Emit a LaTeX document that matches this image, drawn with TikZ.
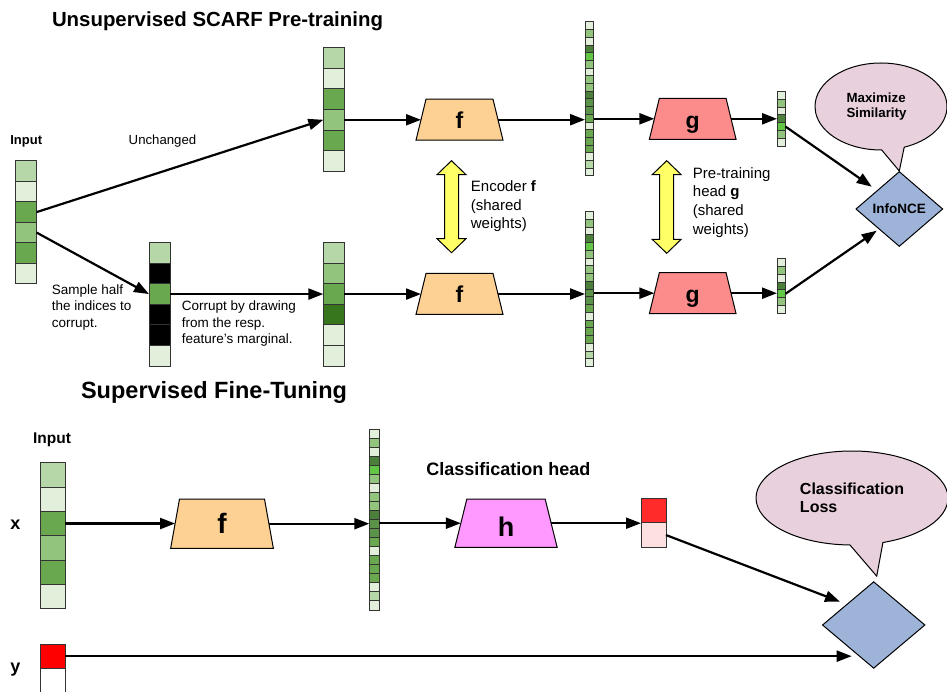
\documentclass[tikz,border=0pt]{standalone}
\usepackage{fontspec}
\setmainfont{Liberation Sans}
\usetikzlibrary{arrows.meta,shapes.geometric,shapes.callouts,calc}
\definecolor{cL}{HTML}{E2EFDA}
\definecolor{cLG}{HTML}{B6D7A8}
\definecolor{cM}{HTML}{93C47D}
\definecolor{cM2}{HTML}{6AA84F}
\definecolor{cMD}{HTML}{5B9448}
\definecolor{cD}{HTML}{4C7F3A}
\definecolor{cDk}{HTML}{38761D}
\definecolor{cB}{HTML}{62C744}
\definecolor{cF}{HTML}{FDD193}
\definecolor{cG}{HTML}{FC8B8B}
\definecolor{cH}{HTML}{FF99FF}
\definecolor{cY}{HTML}{FFFF66}
\definecolor{cDia}{HTML}{9DB3D8}
\definecolor{cBub}{HTML}{E8D0DC}
\definecolor{cR}{HTML}{FF2A2A}
\definecolor{cRed}{HTML}{FF0000}
\definecolor{cPk}{HTML}{FFE0E0}
\definecolor{cEdge}{HTML}{333333}
\def\colsIn{cLG,cL,cM2,cM,cM2,cL}
\def\colsMask{cLG,black,cM2,black,black,cL}
\def\colsCorr{cLG,cM,cM2,cDk,cL,cL}
\def\colsTall{cL,cM,cL,cD,cB,cM,cL,cM,cM,cD,cMD,cMD,cM2,cL,cM2,cM2,cM2,cL,cLG,cL}
\def\colsSmall{cL,cM,cL,cD,cB,cM,cL}
\def\colsOut{cR,cPk}
\def\colsY{cRed,white}
\newcommand\myvec[7]{% name, cx, ytop, w, h, n, colours
  \foreach \c [count=\i] in #7 {
    \node[cell, fill=\c, minimum width=#4, minimum height=#5] (#1-\i) at (#2, {#3+#5*\i-#5/2}) {};
  }
  \node[inner sep=0, outer sep=0, minimum width=#4, minimum height={#5*#6}] (#1) at (#2, {#3+#5*#6/2}) {};
}
\newcommand\mytrap[9]{% name, cx, cy, topw, botw, h, fill, label, font size
  \filldraw[trapline, fill=#7] ({#2-#4/2},{#3-#6/2}) -- ({#2+#4/2},{#3-#6/2}) -- ({#2+#5/2},{#3+#6/2}) -- ({#2-#5/2},{#3+#6/2}) -- cycle;
  \node[inner sep=0, outer sep=0, minimum width={(#4+#5)/2}, minimum height=#6, font=\fontsize{#9}{#9}\selectfont\bfseries] (#1) at (#2,#3) {#8};
}
\newcommand\mydarrow[3]{% cx, top, bottom
  \filldraw[trapline, fill=cY] (#1,#2) -- ({#1+14.5},{#2+14}) -- ({#1+7},{#2+14}) -- ({#1+7},{#3-14}) -- ({#1+14.5},{#3-14}) -- (#1,#3) -- ({#1-14.5},{#3-14}) -- ({#1-7},{#3-14}) -- ({#1-7},{#2+14}) -- ({#1-14.5},{#2+14}) -- cycle;
}
\newcommand\lowered[2]{\raisebox{-#1pt}[0pt][0pt]{#2}}
\begin{document}
\begin{tikzpicture}[x=1pt,y=-1pt,
  cell/.style={draw=cEdge, line width=1pt, inner sep=0, outer sep=0},
  trapline/.style={draw=black, line width=1pt},
  arr/.style={line width=2.2pt, -{Triangle[length=15pt,width=11pt]}},
  lbl/.style={font=\fontsize{13.5}{16.8}\selectfont, align=left, inner sep=0},
  lblb/.style={font=\fontsize{15}{18.6}\selectfont, align=left, inner sep=0},
  dia/.style={diamond, draw=black, line width=1pt, fill=cDia, inner sep=0, aspect=1},
  bub/.style={ellipse callout, draw=black, line width=1pt, fill=cBub, inner sep=0, callout pointer arc=20},
]
\useasboundingbox (0,0) rectangle (947,692);

% titles
\node[font=\fontsize{20.4}{24}\selectfont\bfseries, inner sep=0] (t1) at (217.5,21.5) {Unsupervised SCARF Pre-training};
\node[font=\fontsize{23.5}{28}\selectfont\bfseries, inner sep=0] (t2) at (214,392.5) {Supervised Fine-Tuning};

% ---------- top section ----------
\node[font=\fontsize{13}{15}\selectfont\bfseries, inner sep=0] (inlbl) at (26.2,141) {Input};
\myvec{inp}{26.2}{160.7}{21}{20.55}{6}{\colsIn}
\myvec{unch}{333.7}{47.7}{20.7}{20.6}{6}{\colsIn}
\myvec{mask}{159.5}{242.7}{21}{20.55}{6}{\colsMask}
\myvec{corr}{333.7}{242.7}{20.7}{20.55}{6}{\colsCorr}
\myvec{tva}{589.3}{22}{8.5}{7.7}{20}{\colsTall}
\myvec{tvb}{589.3}{211.7}{8.5}{7.75}{20}{\colsTall}
\myvec{sva}{781.3}{91.7}{8.5}{7.76}{7}{\colsSmall}
\myvec{svb}{781.3}{259}{8.5}{7.72}{7}{\colsSmall}

\mytrap{fa}{459.5}{119.7}{67}{87}{41}{cF}{\lowered{8.6}{f}}{23}
\mytrap{fb}{459.5}{294}{67}{87}{41}{cF}{\lowered{8.6}{f}}{23}
\mytrap{ga}{692.7}{118.8}{66.7}{86.7}{41}{cG}{\lowered{9.4}{g}}{23}
\mytrap{gb}{692.7}{293.2}{66.7}{86.7}{41}{cG}{\lowered{9.4}{g}}{23}

\mydarrow{451.5}{160.7}{252.7}
\mydarrow{666.7}{160.7}{253.3}

\node[dia, minimum width=87, minimum height=75, font=\fontsize{13.5}{15}\selectfont\bfseries] (nce) at (899.3,209) {InfoNCE};
\node[bub, minimum width=132, minimum height=87, callout absolute pointer={(nce.north)}, font=\fontsize{13.3}{15.7}\selectfont\bfseries, align=left] (bubA) at (881,106.5) {\hspace*{-9pt}Maximize\\\hspace*{-9pt}Similarity};

\node[lbl, font=\fontsize{13.2}{15}\selectfont] (unchlbl) at (162.5,141) {Unchanged};
\node[lbl, anchor=west] (samplbl) at (51.7,307.5) {Sample half\\the indices to\\corrupt.};
\node[lbl, anchor=west] (corrlbl) at (181.7,323.7) {Corrupt by drawing\\from the resp.\\feature's marginal.};
\node[lblb, anchor=west] (enclbl) at (470.7,206.5) {Encoder \textbf{f}\\(shared\\weights)};
\node[lblb, anchor=west] (headlbl) at (692.7,202.3) {Pre-training\\head \textbf{g}\\(shared\\weights)};

\draw[arr] (inp-3.east) -- (unch-4.west);
\draw[arr] (inp-4.east) -- (mask-3.west);
\draw[arr] (mask-3.east) -- (mask-3.east -| corr.west);
\draw[arr] (unch-4.east) -- (unch-4.east -| fa.west);
\draw[arr] (corr-3.east) -- (corr-3.east -| fb.west);
\draw[arr] (fa.east) -- (fa.east -| tva.west);
\draw[arr] (fb.east) -- (fb.east -| tvb.west);
\draw[arr] (ga.west -| tva.east) -- (ga.west);
\draw[arr] (gb.west -| tvb.east) -- (gb.west);
\draw[arr] (ga.east) -- (ga.east -| sva.west);
\draw[arr] (gb.east) -- (gb.east -| svb.west);
\draw[arr] (sva-5.east) -- ($(nce.center)+(-27.6,-22.3)$);
\draw[arr] (svb-5.east) -- ($(nce.center)+(-22.6,21.7)$);

% ---------- bottom section ----------
\node[font=\fontsize{15.5}{18}\selectfont\bfseries, inner sep=0] (inlbl2) at (52,440) {Input};
\node[font=\fontsize{18}{20}\selectfont\bfseries, inner sep=0] (xlbl) at (15.3,525) {x};
\node[font=\fontsize{18}{20}\selectfont\bfseries, inner sep=0] (ylbl) at (15.3,670) {y};
\myvec{bx}{52.5}{462.7}{25}{24.33}{6}{\colsIn}
\myvec{by}{52.5}{644}{25}{24.3}{2}{\colsY}
\myvec{tvc}{374.3}{429}{10}{9.05}{20}{\colsTall}
\myvec{out}{653.5}{498.3}{25}{24.5}{2}{\colsOut}

\mytrap{fc}{222}{523.7}{85}{102.7}{49.3}{cF}{\lowered{9.6}{f}}{28}
\mytrap{hh}{506}{523.2}{78.3}{102.3}{48.3}{cH}{\lowered{13}{h}}{27}

\node[font=\fontsize{18}{20}\selectfont\bfseries, inner sep=0] (clshead) at (508.3,469.3) {Classification head};

\node[dia, minimum width=102.7, minimum height=86.7] (cls) at (873.7,625) {};
\node[bub, minimum width=192, minimum height=94, callout absolute pointer={($(cls.north)+(3,-5)$)}, font=\fontsize{16}{18.3}\selectfont\bfseries, align=left] (bubB) at (852,498) {Classification\\Loss};

\draw[arr] (bx-3.east) -- (bx-3.east -| fc.west);
\draw[arr] (fc.east) -- (fc.east -| tvc.west);
\draw[arr] (hh.west -| tvc.east) -- (hh.west);
\draw[arr] (hh.east) -- (hh.east -| out.west);
\draw[arr] (out-2.east) -- ($(cls.center)+(-33.7,-23.3)$);
\draw[arr] (by-1.east) -- ($(by-1.east -| cls.center)+(-22,0)$);
\end{tikzpicture}
\end{document}
